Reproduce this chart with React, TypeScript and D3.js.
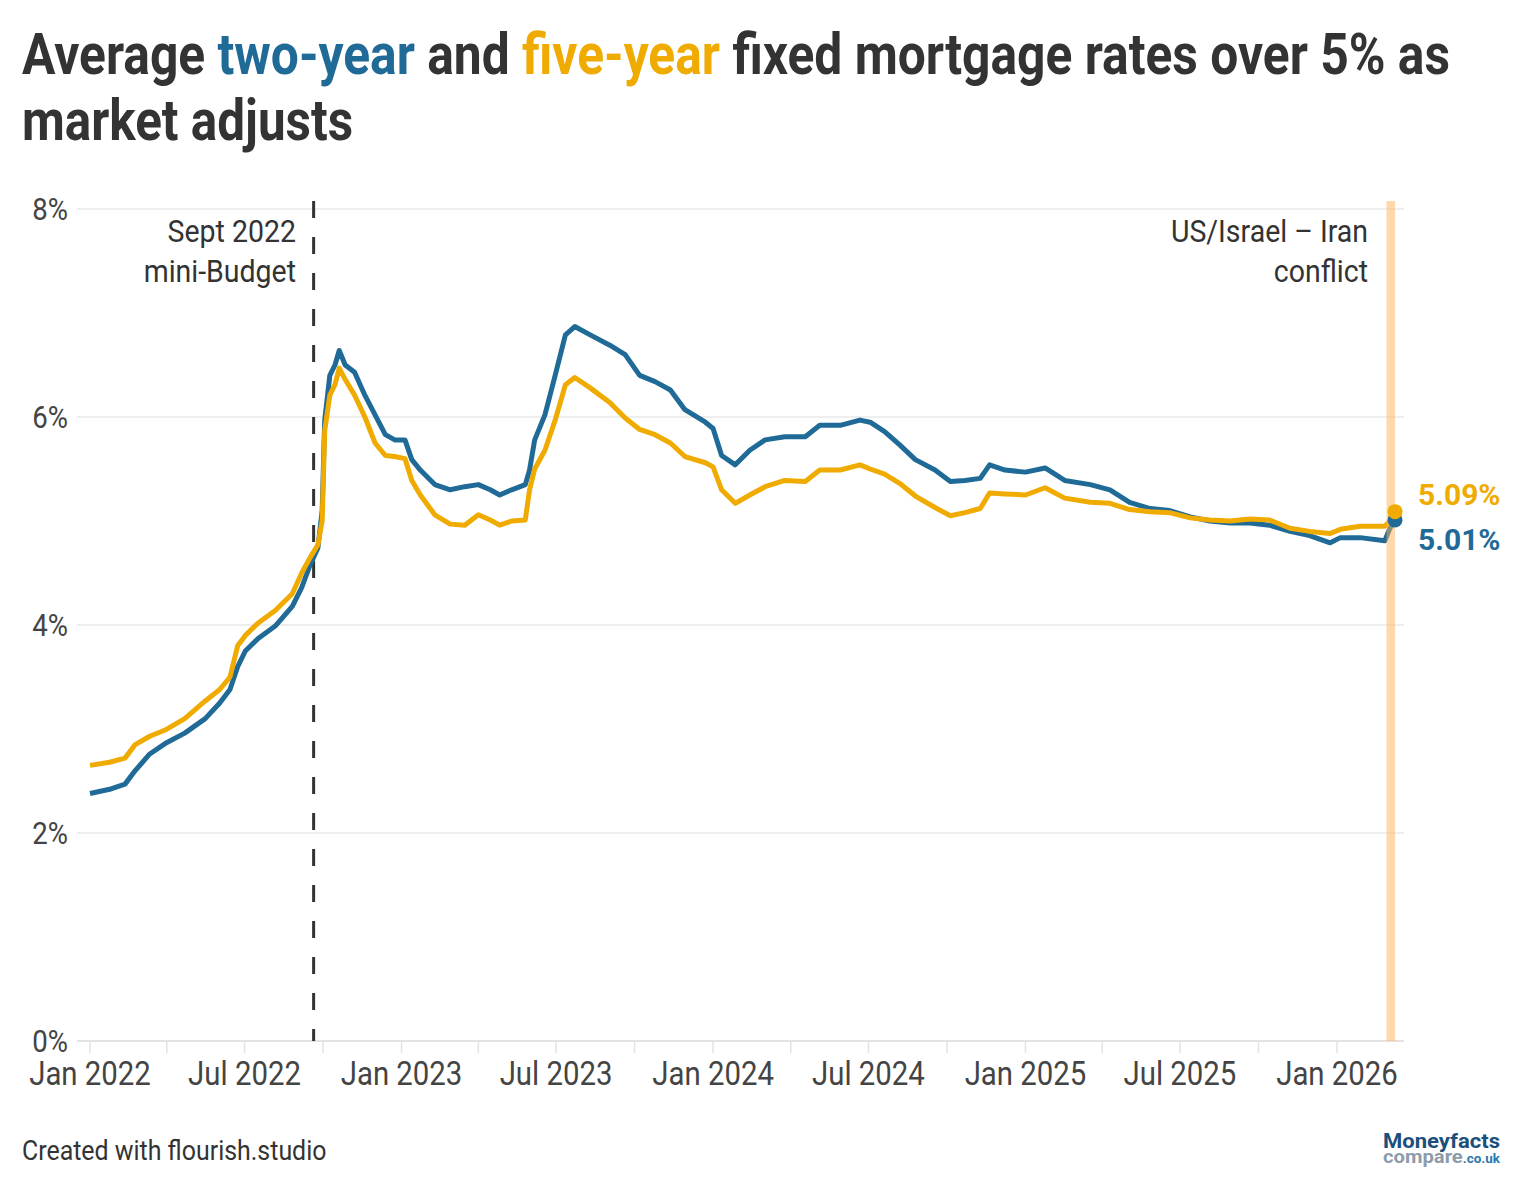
import React from "react";
import * as d3 from "d3";

// dates, with the two series at each date (%)
const dates = [
  "2022-01-01", "2022-01-24", "2022-02-11", "2022-02-23", "2022-03-12", "2022-03-30", "2022-04-22", "2022-05-16",
  "2022-06-02", "2022-06-14", "2022-06-23", "2022-07-02", "2022-07-17", "2022-08-06", "2022-08-26", "2022-09-06",
  "2022-09-16", "2022-09-25", "2022-09-30", "2022-10-03", "2022-10-09", "2022-10-15", "2022-10-20", "2022-10-27",
  "2022-11-07", "2022-11-19", "2022-12-01", "2022-12-13", "2022-12-24", "2023-01-05", "2023-01-13", "2023-01-23",
  "2023-02-09", "2023-02-27", "2023-03-16", "2023-04-01", "2023-04-15", "2023-04-26", "2023-05-10", "2023-05-26",
  "2023-05-31", "2023-06-06", "2023-06-18", "2023-06-30", "2023-07-12", "2023-07-23", "2023-08-10", "2023-09-02",
  "2023-09-20", "2023-10-07", "2023-10-25", "2023-11-12", "2023-11-29", "2023-12-23", "2024-01-01", "2024-01-11",
  "2024-01-27", "2024-02-13", "2024-03-02", "2024-03-25", "2024-04-18", "2024-05-05", "2024-05-29", "2024-06-21",
  "2024-07-03", "2024-07-20", "2024-08-07", "2024-08-25", "2024-09-17", "2024-10-05", "2024-10-22", "2024-11-09",
  "2024-11-20", "2024-12-08", "2025-01-01", "2025-01-24", "2025-02-16", "2025-03-18", "2025-04-10", "2025-05-03",
  "2025-05-27", "2025-06-19", "2025-07-13", "2025-08-05", "2025-08-29", "2025-09-21", "2025-10-14", "2025-11-07",
  "2025-11-30", "2025-12-24", "2026-01-05", "2026-01-28", "2026-02-26", "2026-03-04", "2026-03-10",
];

const twoYear = [
  2.38, 2.42, 2.47, 2.6, 2.76, 2.86, 2.96, 3.1,
  3.25, 3.38, 3.6, 3.75, 3.87, 3.99, 4.18, 4.36,
  4.58, 4.74, 5.1, 5.97, 6.4, 6.5, 6.64, 6.5,
  6.43, 6.21, 6.02, 5.83, 5.78, 5.78, 5.59, 5.49,
  5.35, 5.3, 5.33, 5.35, 5.3, 5.25, 5.3, 5.35,
  5.49, 5.78, 6.02, 6.4, 6.79, 6.87, 6.79, 6.69,
  6.6, 6.4, 6.34, 6.26, 6.07, 5.95, 5.89, 5.63,
  5.54, 5.68, 5.78, 5.81, 5.81, 5.92, 5.92, 5.97,
  5.95, 5.86, 5.73, 5.59, 5.49, 5.38, 5.39, 5.41,
  5.54, 5.49, 5.47, 5.51, 5.39, 5.35, 5.3, 5.18,
  5.12, 5.1, 5.04, 5.0, 4.98, 4.98, 4.96, 4.9,
  4.86, 4.79, 4.84, 4.84, 4.81, 4.93, 5.01,
];

const fiveYear = [
  2.65, 2.68, 2.72, 2.85, 2.93, 2.99, 3.1, 3.27,
  3.38, 3.5, 3.8, 3.9, 4.02, 4.14, 4.3, 4.5,
  4.65, 4.77, 5.0, 5.87, 6.21, 6.31, 6.47, 6.36,
  6.21, 6.0, 5.75, 5.63, 5.62, 5.6, 5.39, 5.25,
  5.06, 4.97, 4.96, 5.06, 5.01, 4.96, 5.0, 5.01,
  5.3, 5.5, 5.68, 5.97, 6.31, 6.38, 6.28, 6.14,
  5.99, 5.88, 5.83, 5.75, 5.62, 5.56, 5.52, 5.3,
  5.17, 5.25, 5.33, 5.39, 5.38, 5.49, 5.49, 5.54,
  5.5, 5.45, 5.36, 5.24, 5.13, 5.05, 5.08, 5.12,
  5.27, 5.26, 5.25, 5.32, 5.22, 5.18, 5.17, 5.11,
  5.09, 5.08, 5.03, 5.01, 5.0, 5.02, 5.01, 4.93,
  4.9, 4.88, 4.92, 4.95, 4.95, 5.0, 5.09,
];

const yTicks = [0, 2, 4, 6, 8];
const miniBudget = "2022-09-20";
const conflictStart = "2026-02-28";
const conflictEnd = "2026-03-10";

const BLUE = "#1f6a96";
const ORANGE = "#f0ab00";
const TEXT = "#333333";
const FONT = "Roboto, sans-serif";
const SQ = 0.89; // squeeze Roboto towards a condensed face

function CText({ x, y, anchor = "start", size, weight = 400, fill = TEXT, children }: any) {
  return (
    <text
      transform={`translate(${x},${y}) scale(${SQ},1)`}
      textAnchor={anchor}
      fontSize={size}
      fontWeight={weight}
      fill={fill}
      fontFamily={FONT}
    >
      {children}
    </text>
  );
}

export default function App() {
  const W = 1524, H = 1196;
  const parse = d3.timeParse("%Y-%m-%d");
  const pts = dates.map((d, i) => ({ date: parse(d) as Date, two: twoYear[i], five: fiveYear[i] }));

  const x = d3.scaleTime().domain([new Date(2022, 0, 1), new Date(2026, 0, 1)]).range([90, 1337]);
  const y = d3.scaleLinear().domain([0, 8]).range([1041, 209]);
  const left = 77, right = 1404;

  const lineTwo = d3.line<any>().x(d => x(d.date)).y(d => y(d.two));
  const lineFive = d3.line<any>().x(d => x(d.date)).y(d => y(d.five));

  const qTicks = d3.timeMonth.range(new Date(2022, 0, 1), new Date(2026, 1, 1), 3);
  const fmt = d3.timeFormat("%b %Y");
  const last = pts[pts.length - 1];
  const mbX = x(parse(miniBudget) as Date);
  const bx0 = x(parse(conflictStart) as Date);
  const bx1 = x(parse(conflictEnd) as Date);

  return (
    <svg width={W} height={H} style={{ position: "absolute", left: 0, top: 0, background: "#fff" }}>
      {/* title */}
      <text x={22} y={74} fontSize={58} fontWeight={700} fill={TEXT} fontFamily={FONT} textLength={1428} lengthAdjust="spacingAndGlyphs">
        Average <tspan fill={BLUE}>two-year</tspan> and <tspan fill={ORANGE}>five-year</tspan> fixed mortgage rates over 5% as
      </text>
      <text x={22} y={140} fontSize={58} fontWeight={700} fill={TEXT} fontFamily={FONT} textLength={331} lengthAdjust="spacingAndGlyphs">
        market adjusts
      </text>

      {/* grid */}
      {yTicks.map(t => (
        <g key={t}>
          <line x1={left} x2={right} y1={y(t)} y2={y(t)} stroke="#e8e8e8" strokeWidth={1.5} />
          <CText x={68} y={y(t) + 11} anchor="end" size={31} fill="#444">{t}%</CText>
        </g>
      ))}
      <line x1={left} x2={right} y1={y(0)} y2={y(0)} stroke="#e3e3e3" strokeWidth={2} />
      {qTicks.map(t => (
        <line key={+t} x1={x(t)} x2={x(t)} y1={y(0)} y2={y(0) + 12} stroke="#e3e3e3" strokeWidth={1.5} />
      ))}
      {qTicks.filter(t => t.getMonth() % 6 === 0).map(t => (
        <CText key={+t} x={x(t)} y={1085} anchor="middle" size={33} fill="#444">{fmt(t)}</CText>
      ))}

      {/* mini-budget marker */}
      <line x1={mbX} x2={mbX} y1={201} y2={y(0)} stroke="#333" strokeWidth={3} strokeDasharray="17 19" />
      <CText x={296} y={242} anchor="end" size={32}>Sept 2022</CText>
      <CText x={296} y={282} anchor="end" size={32}>mini-Budget</CText>

      {/* lines */}
      <path d={lineTwo(pts) as string} fill="none" stroke={BLUE} strokeWidth={5} strokeLinejoin="round" />
      <path d={lineFive(pts) as string} fill="none" stroke={ORANGE} strokeWidth={5} strokeLinejoin="round" />

      {/* conflict band */}
      <rect x={bx0} y={201} width={bx1 - bx0} height={y(0) - 201} fill="#ffb45a" opacity={0.5} />
      <CText x={1368} y={242} anchor="end" size={32}>US/Israel – Iran</CText>
      <CText x={1368} y={282} anchor="end" size={32}>conflict</CText>

      {/* end points */}
      <circle cx={x(last.date)} cy={y(last.two)} r={7.5} fill={BLUE} />
      <circle cx={x(last.date)} cy={y(last.five)} r={7.5} fill={ORANGE} />
      <text x={1418} y={505} fontSize={30} fontWeight={700} fill={ORANGE} fontFamily={FONT}>{last.five.toFixed(2)}%</text>
      <text x={1418} y={550} fontSize={30} fontWeight={700} fill={BLUE} fontFamily={FONT}>{last.two.toFixed(2)}%</text>

      {/* footer */}
      <CText x={22} y={1160} size={28}>Created with flourish.studio</CText>
      <text x={1500} y={1148} textAnchor="end" fontSize={21} fontWeight={700} fill="#1b4f7c" fontFamily={FONT} textLength={117} lengthAdjust="spacingAndGlyphs">Moneyfacts</text>
      <text x={1500} y={1163} textAnchor="end" fontFamily={FONT} fontWeight={700} textLength={117} lengthAdjust="spacingAndGlyphs">
        <tspan fontSize={18} fill="#8c9cab">compare</tspan>
        <tspan fontSize={12} fill="#2a78b0">.co.uk</tspan>
      </text>
    </svg>
  );
}
